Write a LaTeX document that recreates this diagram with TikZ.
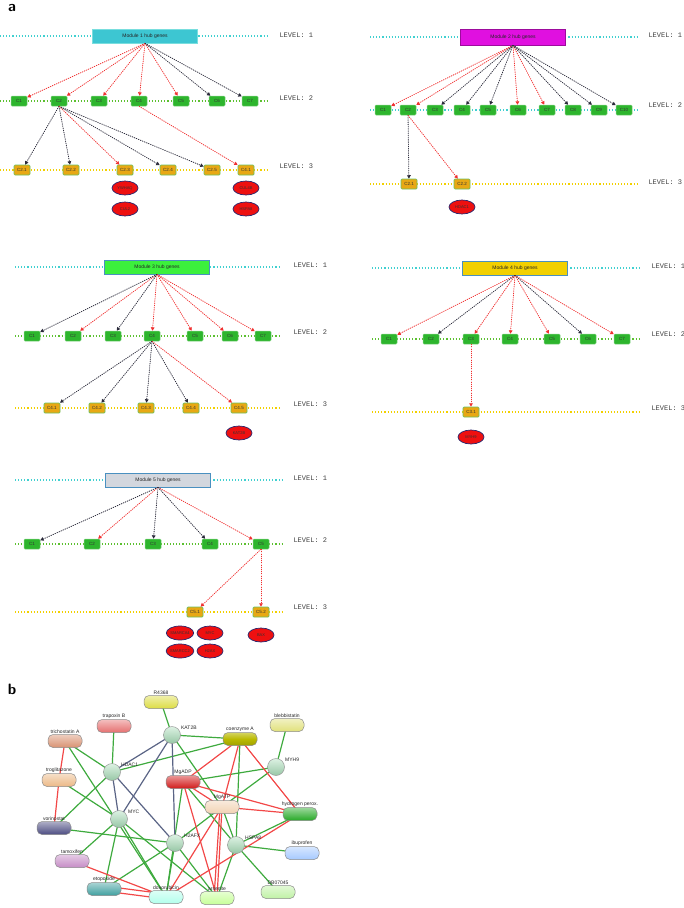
\documentclass[tikz,border=0pt]{standalone}
\usepackage{fontspec}
\setmainfont{Liberation Sans}
\newfontfamily\monof{Liberation Mono}
\usetikzlibrary{arrows.meta,shapes.geometric}
\definecolor{cyanl}{HTML}{40D0D0}
\definecolor{greenl}{HTML}{5CC030}
\definecolor{yell}{HTML}{F2D000}
\definecolor{ltwo}{HTML}{2DB52D}
\definecolor{lthree}{HTML}{E8A814}
\definecolor{lthreeb}{HTML}{6CC060}
\definecolor{gred}{HTML}{EE1010}
\definecolor{cred}{HTML}{F03030}
\definecolor{cblk}{HTML}{2A2A3A}
\definecolor{eg}{HTML}{3EAA3E}
\definecolor{er}{HTML}{F24848}
\definecolor{eb}{HTML}{5A6485}
\definecolor{circf}{HTML}{A8DDB8}
\definecolor{magbox}{HTML}{E010E0}
\definecolor{grnbox}{HTML}{3CF03C}
\definecolor{grybox}{HTML}{D3D7DE}
\definecolor{modborder}{HTML}{4A90C0}
\begin{document}
\begin{tikzpicture}[x=1pt,y=-1pt,
  dline/.style={dotted,line width=1.1},
  modbox/.style={rectangle,draw=#1,line width=0.7,minimum height=14,minimum width=105,inner sep=0,font=\fontsize{5}{6}\selectfont,text=black!85},
  ltwobox/.style={rectangle,fill=ltwo,draw=ltwo!60!white,line width=0.5,rounded corners=1,minimum width=16,minimum height=10,inner sep=0,font=\fontsize{4.5}{5}\selectfont,text=black!80},
  lthreebox/.style={rectangle,fill=lthree,draw=lthreeb,line width=0.7,rounded corners=1,minimum width=16,minimum height=10,inner sep=0,font=\fontsize{4.5}{5}\selectfont,text=black!80},
  gene/.style={ellipse,fill=gred,draw=black!60!blue!70!gray,line width=0.7,minimum width=26,minimum height=14,inner sep=0,font=\fontsize{4}{5}\selectfont,text=black!80},
  lvl/.style={anchor=west,font=\monof\fontsize{7}{8}\selectfont,text=black!75},
  arr/.style={dash pattern=on 0.9pt off 1.3pt,line width=0.8,-{Triangle[length=3.4,width=3.6]}},
  ared/.style={arr,draw=cred,fill=cred},
  ablk/.style={arr,draw=cblk,fill=cblk},
  pill/.style={rectangle,rounded corners=5,minimum width=34,minimum height=13,inner sep=0,draw=black!45,line width=0.5,top color=#1!45!white,bottom color=#1},
  circ/.style={circle,minimum size=17,inner sep=0,draw=black!40,line width=0.5,top color=circf!40!white,bottom color=circf!90!black},
  nlab/.style={font=\fontsize{5}{6}\selectfont,text=black!85,inner sep=0.5},
  egr/.style={draw=eg,line width=1.2},
  ered/.style={draw=er,line width=1.2},
  eblu/.style={draw=eb,line width=1.2}
]
\useasboundingbox (0,0) rectangle (684,908);
\node[font=\sffamily\bfseries\fontsize{15}{15}\selectfont] (tagA) at (12,8) {a};
\node[font=\sffamily\bfseries\fontsize{15}{15}\selectfont] (tagB) at (12,689) {b};

% ================= Module 1
\draw[dline,cyanl] (0,36) -- (268,36);
\draw[dline,greenl] (0,101) -- (268,101);
\draw[dline,yell] (0,170) -- (268,170);
\node[modbox=cyanl!70!white,fill=cyanl!95!blue] (m1) at (145,36) {Module 1 hub genes};
\foreach \i/\x in {1/19,2/59,3/99,4/139,5/181,6/217,7/250}
  \node[ltwobox] (m1c\i) at (\x,101) {C\i};
\foreach \n/\t/\x in {a/C2.1/22,b/C2.2/71,c/C2.3/125,d/C2.4/168,e/C2.5/212,f/C4.1/246}
  \node[lthreebox] (m1t\n) at (\x,170) {\t};
\node[gene] (m1g1) at (125,188) {YWHAQ};
\node[gene] (m1g2) at (125,209) {CUL2};
\node[gene] (m1g3) at (246,188) {CUL4B};
\node[gene] (m1g4) at (246,209) {HSPA8};
\foreach \i in {1,...,5} \draw[ared] (m1.south) -- (m1c\i);
\foreach \i in {6,7} \draw[ablk] (m1.south) -- (m1c\i);
\foreach \n in {a,b,d,e} \draw[ablk] (m1c2.south) -- (m1t\n);
\draw[ared] (m1c2.south) -- (m1tc);
\draw[ared] (m1c4.south) -- (m1tf);
\node[lvl] (m1l1) at (276,35) {LEVEL: 1};
\node[lvl] (m1l2) at (276,98) {LEVEL: 2};
\node[lvl] (m1l3) at (276,166) {LEVEL: 3};

% ================= Module 2
\draw[dline,cyanl] (370,37) -- (637,37);
\draw[dline,cyanl] (370,110) -- (637,110);
\draw[dline,yell] (370,184) -- (637,184);
\node[modbox=magbox!70!black,fill=magbox,minimum height=16] (m2) at (513,37) {Module 2 hub genes};
\foreach \i/\x in {1/383,2/408,3/435,4/462,5/488,6/518,7/547,8/573,9/599,10/624}
  \node[ltwobox] (m2c\i) at (\x,110) {C\i};
\node[lthreebox] (m2ta) at (409,184) {C2.1};
\node[lthreebox] (m2tb) at (462,184) {C2.2};
\node[gene] (m2g1) at (462,207) {HDAC1};
\foreach \i in {1,2,6,7} \draw[ared] (m2.south) -- (m2c\i);
\foreach \i in {3,4,5,8,9,10} \draw[ablk] (m2.south) -- (m2c\i);
\draw[ablk] (m2c2.south) -- (m2ta);
\draw[ared] (m2c2.south) -- (m2tb);
\node[lvl] (m2l1) at (645,35) {LEVEL: 1};
\node[lvl] (m2l2) at (645,105) {LEVEL: 2};
\node[lvl] (m2l3) at (645,182) {LEVEL: 3};

% ================= Module 3
\draw[dline,cyanl] (15,267) -- (280,267);
\draw[dline,greenl] (15,336) -- (280,336);
\draw[dline,yell] (15,408) -- (280,408);
\node[modbox=modborder,fill=grnbox] (m3) at (157,267) {Module 3 hub genes};
\foreach \i/\x in {1/32,2/73,3/113,4/152,5/195,6/230,7/263}
  \node[ltwobox] (m3c\i) at (\x,336) {C\i};
\foreach \n/\t/\x in {a/C4.1/52,b/C4.2/97,c/C4.3/146,d/C4.4/191,e/C4.5/239}
  \node[lthreebox] (m3t\n) at (\x,408) {\t};
\node[gene] (m3g1) at (239,433) {KAT2B};
\foreach \i in {2,4,5,6,7} \draw[ared] (m3.south) -- (m3c\i);
\foreach \i in {1,3} \draw[ablk] (m3.south) -- (m3c\i);
\foreach \n in {a,b,c,d} \draw[ablk] (m3c4.south) -- (m3t\n);
\draw[ared] (m3c4.south) -- (m3te);
\node[lvl] (m3l1) at (290,265) {LEVEL: 1};
\node[lvl] (m3l2) at (290,332) {LEVEL: 2};
\node[lvl] (m3l3) at (290,404) {LEVEL: 3};

% ================= Module 4
\draw[dline,cyanl] (372,268) -- (639,268);
\draw[dline,greenl] (372,339) -- (639,339);
\draw[dline,yell] (372,412) -- (639,412);
\node[modbox=modborder,fill=yell] (m4) at (515,268) {Module 4 hub genes};
\foreach \i/\x in {1/389,2/431,3/471,4/510,5/552,6/588,7/622}
  \node[ltwobox] (m4c\i) at (\x,339) {C\i};
\node[lthreebox] (m4ta) at (471,412) {C3.1};
\node[gene] (m4g1) at (471,437) {MYH9};
\foreach \i in {1,3,4,5,7} \draw[ared] (m4.south) -- (m4c\i);
\foreach \i in {2,6} \draw[ablk] (m4.south) -- (m4c\i);
\draw[ared] (m4c3.south) -- (m4ta);
\node[lvl] (m4l1) at (648,266) {LEVEL: 1};
\node[lvl] (m4l2) at (648,334) {LEVEL: 2};
\node[lvl] (m4l3) at (648,408) {LEVEL: 3};

% ================= Module 5
\draw[dline,cyanl] (15,480) -- (282,480);
\draw[dline,greenl] (15,544) -- (282,544);
\draw[dline,yell] (15,612) -- (282,612);
\node[modbox=modborder,fill=grybox] (m5) at (158,480) {Module 5 hub genes};
\foreach \i/\x in {1/32,2/92,3/153,4/210,5/261}
  \node[ltwobox] (m5c\i) at (\x,544) {C\i};
\node[lthreebox] (m5ta) at (195,612) {C5.1};
\node[lthreebox] (m5tb) at (261,612) {C5.2};
\node[gene] (m5g1) at (180,633) {SMARCA4};
\node[gene] (m5g2) at (210,633) {MYC};
\node[gene] (m5g3) at (180,651) {SMARCC2};
\node[gene] (m5g4) at (210,651) {H2AX};
\node[gene] (m5g5) at (261,635) {BAX};
\foreach \i in {2,5} \draw[ared] (m5.south) -- (m5c\i);
\foreach \i in {1,3,4} \draw[ablk] (m5.south) -- (m5c\i);
\draw[ared] (m5c5.south) -- (m5ta);
\draw[ared] (m5c5.south) -- (m5tb);
\node[lvl] (m5l1) at (290,478) {LEVEL: 1};
\node[lvl] (m5l2) at (290,540) {LEVEL: 2};
\node[lvl] (m5l3) at (290,607) {LEVEL: 3};

% ================= Network b
\coordinate (r4368) at (161,702);
\coordinate (trapoxin) at (114,726);
\coordinate (tricho) at (65,741);
\coordinate (trogli) at (59,780);
\coordinate (vorino) at (54,828);
\coordinate (tamox) at (72,861);
\coordinate (etopo) at (104,889);
\coordinate (doxo) at (166,897);
\coordinate (hdac) at (112,772);
\coordinate (myc) at (119,819);
\coordinate (kat) at (172,735);
\coordinate (coa) at (240,739);
\coordinate (blebb) at (287,725);
\coordinate (myh) at (276,767);
\coordinate (mgadp) at (183,782);
\coordinate (mgatp) at (222,807);
\coordinate (hperox) at (300,814);
\coordinate (h2afx) at (175,843);
\coordinate (hspa) at (236,845);
\coordinate (ibu) at (302,853);
\coordinate (db) at (278,892);
\coordinate (arsen) at (217,898);

\foreach \a/\b in {tricho/hdac,tricho/doxo,trogli/myc,trapoxin/hdac,vorino/hdac,vorino/h2afx,hdac/coa,myc/tamox,myc/etopo,myc/doxo,myc/arsen,kat/r4368,kat/coa,kat/mgatp,coa/hspa,blebb/myh,myh/mgadp,myh/mgatp,mgadp/doxo,mgadp/hspa,mgatp/h2afx,mgatp/hspa,hperox/hspa,hspa/ibu,hspa/db,hspa/arsen,h2afx/doxo,h2afx/etopo,h2afx/arsen}
  \draw[egr] (\a) -- (\b);
\foreach \a/\b in {tricho/trogli,trogli/vorino,tamox/doxo,coa/mgadp,coa/mgatp,coa/hperox,mgadp/mgatp,mgadp/hperox,mgadp/arsen,mgatp/hperox,mgatp/arsen,mgatp/doxo,hperox/doxo}
  \draw[ered] (\a) -- (\b);
\draw[ered] ([yshift=-2]etopo) -- ([yshift=-2]doxo);
\draw[ered] ([yshift=3]etopo) -- ([yshift=3]doxo);
\draw[ered] ([xshift=-2]mgatp) -- ([xshift=-3]arsen);
\foreach \a/\b in {hdac/myc,hdac/kat,hdac/h2afx,myc/kat,kat/h2afx}
  \draw[eblu] (\a) -- (\b);

\node[pill=yellow!55!olive!60!white] (nR) at (r4368) [label={[nlab]above:R4368}] {};
\node[pill=red!35!pink!90!black] (nTrap) at (trapoxin) [label={[nlab]above:trapoxin B}] {};
\node[pill=orange!30!pink!85!black] (nTric) at (tricho) [label={[nlab]above:trichostatin A}] {};
\node[pill=orange!45!brown!55!white] (nTrog) at (trogli) [label={[nlab]above:troglitazone}] {};
\node[pill=blue!30!black!70!white] (nVor) at (vorino) [label={[nlab]above:vorinostat}] {};
\node[pill=violet!45!white] (nTam) at (tamox) [label={[nlab]above:tamoxifen}] {};
\node[pill=teal!75!white] (nEto) at (etopo) [label={[nlab]above:etoposide}] {};
\node[pill=green!25!cyan!30!white] (nDox) at (doxo) [label={[nlab]above:doxorubicin}] {};
\node[pill=olive!75!yellow] (nCoa) at (coa) [label={[nlab]above:coenzyme A}] {};
\node[pill=yellow!40!olive!40!white] (nBleb) at (blebb) [label={[nlab]above:blebbistatin}] {};
\node[pill=red!80!black!90!white] (nADP) at (mgadp) [label={[nlab]above:MgADP}] {};
\node[pill=orange!40!brown!35!white] (nATP) at (mgatp) [label={[nlab]above:MgATP}] {};
\node[pill=green!60!black!85!white] (nH2O2) at (hperox) [label={[nlab]above:hydrogen perox.}] {};
\node[pill=cyan!40!blue!35!white] (nIbu) at (ibu) [label={[nlab]above:ibuprofen}] {};
\node[pill=olive!35!green!30!white] (nDB) at (db) [label={[nlab]above:DB07045}] {};
\node[pill=yellow!45!green!40!white] (nArs) at (arsen) [label={[nlab]above:arsenite}] {};
\node[circ] (nHDAC) at (hdac) [label={[nlab,label distance=1]30:HDAC1}] {};
\node[circ] (nMYC) at (myc) [label={[nlab,label distance=1]30:MYC}] {};
\node[circ] (nKAT) at (kat) [label={[nlab,label distance=1]30:KAT2B}] {};
\node[circ] (nMYH) at (myh) [label={[nlab,label distance=1]30:MYH9}] {};
\node[circ] (nH2AFX) at (h2afx) [label={[nlab,label distance=1]30:H2AFX}] {};
\node[circ] (nHSPA) at (hspa) [label={[nlab,label distance=1]30:HSPA8}] {};
\end{tikzpicture}
\end{document}
